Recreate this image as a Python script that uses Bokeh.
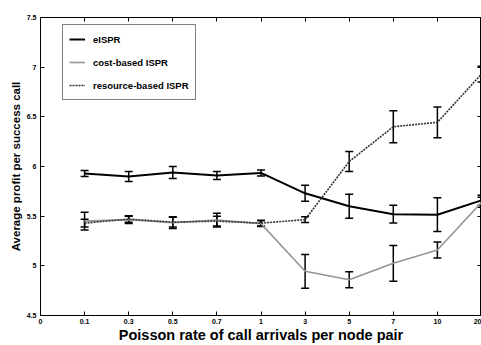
from bokeh.plotting import figure
from bokeh.models import (ColumnDataSource, Whisker, TeeHead, FixedTicker, LinearAxis,
                          Legend, LegendItem, Range1d)
from bokeh.embed import file_html
from bokeh.resources import INLINE

# Poisson call-arrival rates (placed at evenly spaced tick positions)
x_labels = ["0", "0.1", "0.3", "0.5", "0.7", "1", "3", "5", "7", "10", "20"]
y_ticks = [4.5, 5, 5.5, 6, 6.5, 7, 7.5]
y_tick_labels = ["4.5", "5", "5.5", "6", "6.5", "7", "7.5"]

# Average profit per successful call and its error half-widths
eispr = [5.93, 5.90, 5.94, 5.91, 5.935, 5.73, 5.60, 5.52, 5.515, 5.66]
eispr_err = [0.03, 0.05, 0.06, 0.04, 0.03, 0.08, 0.12, 0.09, 0.17, 0.05]
cost_ispr = [5.45, 5.465, 5.435, 5.46, 5.425, 4.945, 4.86, 5.025, 5.16, 5.64]
cost_err = [0.09, 0.04, 0.06, 0.07, 0.03, 0.17, 0.08, 0.18, 0.08, 0.05]
res_ispr = [5.43, 5.47, 5.44, 5.45, 5.43, 5.465, 6.05, 6.40, 6.445, 6.93]
res_err = [0.04, 0.03, 0.05, 0.05, 0.03, 0.03, 0.10, 0.16, 0.155, 0.08]

positions = list(range(len(x_labels)))
rate_pos = positions[1:]

FONT = "Liberation Sans"

p = figure(width=481, height=345, x_range=Range1d(0, 10), y_range=Range1d(4.5, 7.5),
           output_backend="svg", toolbar_location=None,
           min_border_left=40, min_border_right=0, min_border_top=17, min_border_bottom=28)
p.xgrid.visible = False
p.ygrid.visible = False
p.outline_line_color = "black"
p.background_fill_color = "white"
p.border_fill_color = "white"


def style_axis(ax, labelled=True):
    ax.axis_line_color = "black"
    ax.major_tick_line_color = "black"
    ax.major_tick_in = 4
    ax.major_tick_out = 0
    ax.minor_tick_line_color = None
    ax.major_label_text_font = FONT
    ax.major_label_text_font_style = "bold"
    ax.major_label_text_color = "black"
    ax.axis_label_text_font = FONT
    ax.axis_label_text_font_style = "bold"
    ax.axis_label_text_color = "black"
    if labelled:
        ax.major_label_text_font_size = "7px"
        ax.major_label_standoff = 4
    else:
        ax.major_label_text_font_size = "1px"
        ax.major_label_standoff = 0


x_over = {i: s for i, s in zip(positions, x_labels)}
y_over = {v: s for v, s in zip(y_ticks, y_tick_labels)}

p.xaxis.ticker = FixedTicker(ticks=positions)
p.xaxis.major_label_overrides = x_over
p.yaxis.ticker = FixedTicker(ticks=y_ticks)
p.yaxis.major_label_overrides = y_over
style_axis(p.xaxis[0])
style_axis(p.yaxis[0])
p.xaxis.major_label_standoff = 3
p.xaxis.axis_label = "Poisson rate of call arrivals per node pair"
p.xaxis.axis_label_text_font_size = "14.5px"
p.xaxis.axis_label_standoff = 0
p.yaxis.axis_label = "Average profit per success call"
p.yaxis.axis_label_text_font_size = "11.5px"
p.yaxis.axis_label_standoff = 2

# box-style frame: ticks along the top and right edges as well
top_axis = LinearAxis(ticker=FixedTicker(ticks=positions),
                      major_label_overrides={i: "" for i in positions})
style_axis(top_axis, labelled=False)
p.add_layout(top_axis, "above")
right_axis = LinearAxis(ticker=FixedTicker(ticks=y_ticks),
                        major_label_overrides={v: "" for v in y_ticks})
style_axis(right_axis, labelled=False)
p.add_layout(right_axis, "right")

series = [
    ("eISPR", eispr, eispr_err, dict(line_color="black", line_width=2)),
    ("cost-based ISPR", cost_ispr, cost_err, dict(line_color="#959595", line_width=1.6)),
    ("resource-based ISPR", res_ispr, res_err,
     dict(line_color="#333333", line_width=1.6, line_dash="2 1")),
]

items = []
for name, vals, errs, style in series:
    src = ColumnDataSource(data=dict(
        x=rate_pos, y=vals,
        lo=[v - e for v, e in zip(vals, errs)],
        hi=[v + e for v, e in zip(vals, errs)],
    ))
    r = p.line("x", "y", source=src, **style)
    w = Whisker(source=src, base="x", upper="hi", lower="lo",
                line_color="black", line_width=1.5,
                upper_head=TeeHead(size=8, line_color="black", line_width=1.5),
                lower_head=TeeHead(size=8, line_color="black", line_width=1.5))
    p.add_layout(w)
    items.append(LegendItem(label=name, renderers=[r]))

legend = Legend(items=items, location=(22, 215),
                border_line_color="black", border_line_width=1,
                background_fill_color="white", background_fill_alpha=1,
                label_text_font=FONT, label_text_font_style="bold",
                label_text_font_size="9.5px", label_text_color="black",
                glyph_width=16, glyph_height=16, label_height=16,
                spacing=7, padding=6, label_standoff=8, margin=0)
p.add_layout(legend)

open("out.html", "w").write(file_html(p, INLINE))
